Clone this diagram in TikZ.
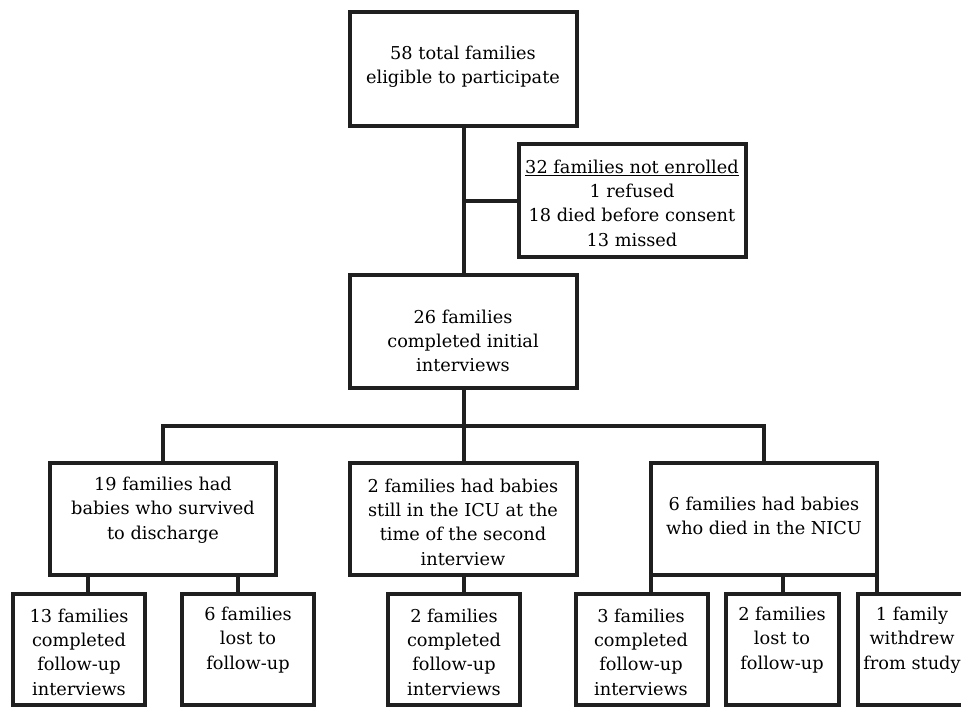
\documentclass[tikz,border=0pt]{standalone}
\usepackage{fontspec}
\setmainfont{DejaVu Serif}
\begin{document}
\begin{tikzpicture}[x=0.75pt,y=-0.75pt,
  box/.style={draw=black!88, line width=3pt, inner sep=0pt, outer sep=0pt},
  txt/.style={align=center, inner sep=0pt, font=\fontsize{13.3}{18.2}\selectfont},
  conn/.style={draw=black!88, line width=3pt}]
\newcommand{\bx}[5]{\node[box, minimum width={(#4-#2)*0.75pt}, minimum height={(#5-#3)*0.75pt}] (#1) at ({(#2+#4)/2},{(#3+#5)/2}) {};}
\useasboundingbox (0,0) rectangle (961,707);
\clip (0,0) rectangle (961,707);
% boxes
\bx{top}{350}{12}{577}{126}
\bx{excl}{519}{144}{746}{257}
\bx{init}{350}{275}{577}{388}
\bx{surv}{50}{463}{276}{575}
\bx{icu}{350}{463}{577}{575}
\bx{died}{651}{463}{877}{575}
\bx{sa}{13}{594}{145}{705}
\bx{sb}{182}{594}{314}{705}
\bx{ia}{388}{594}{520}{705}
\bx{da}{576}{594}{708}{705}
\bx{db}{726}{594}{839}{705}
\bx{dc}{858}{594}{975}{705}
% texts
\node[txt] (topt) at (463,67) {58 total families\\eligible to participate};
\node[txt] (exclt) at (632,203) {\underline{32 families not enrolled}\\1 refused\\18 died before consent\\13 missed};
\node[txt] (initt) at (463,341) {26 families\\completed initial\\interviews};
\node[txt] (survt) at (163,510) {19 families had\\babies who survived\\to discharge};
\node[txt] (icut) at (463,522) {2 families had babies\\still in the ICU at the\\time of the second\\interview};
\node[txt] (diedt) at (764,516) {6 families had babies\\who died in the NICU};
\node[txt] (sat) at (79,652) {13 families\\completed\\follow-up\\interviews};
\node[txt] (sbt) at (248,640) {6 families\\lost to\\follow-up};
\node[txt] (iat) at (454,652) {2 families\\completed\\follow-up\\interviews};
\node[txt] (dat) at (641,652) {3 families\\completed\\follow-up\\interviews};
\node[txt] (dbt) at (782,640) {2 families\\lost to\\follow-up};
\node[txt] (dct) at (912,640) {1 family\\withdrew\\from study};
% connectors
\coordinate (busL) at (163,426);
\coordinate (busR) at (764,426);
\draw[conn] (top.south) -- (init.north);
\draw[conn] (excl.west) -- (excl.west -| top.south);
\draw[conn] (init.south) -- (init.south |- busL);
\draw[conn] (surv.north) -- (busL) -- (busR) -- (died.north);
\draw[conn] (init.south |- busL) -- (icu.north);
\draw[conn] (surv.south -| 88,0) -- (sa.north -| 88,0);
\draw[conn] (surv.south -| 238,0) -- (sb.north -| 238,0);
\draw[conn] (icu.south) -- (icu.south |- ia.north);
\draw[conn] (died.south west) -- (died.south west |- da.north);
\draw[conn] (died.south -| 783,0) -- (db.north -| 783,0);
\draw[conn] (died.south east) -- (died.south east |- dc.north);
\end{tikzpicture}
\end{document}
